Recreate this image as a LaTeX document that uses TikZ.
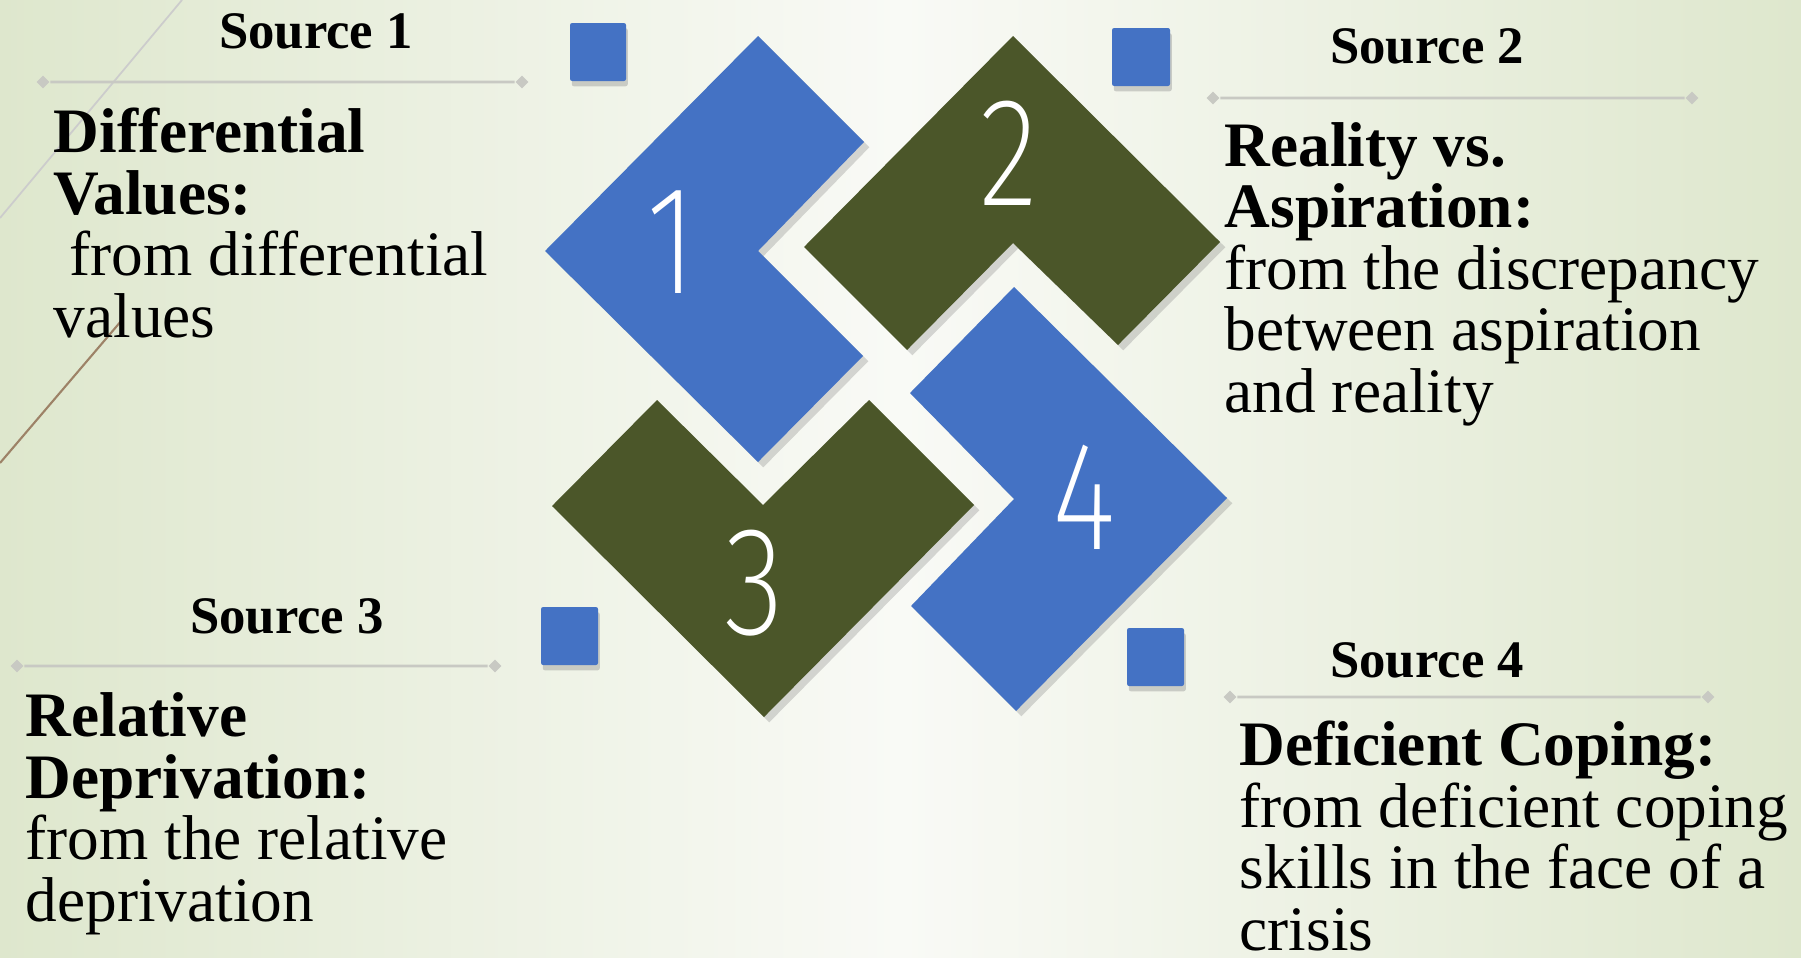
\documentclass[tikz,border=0pt]{standalone}
\usepackage{fontspec}
\setmainfont{Liberation Serif}
\newfontfamily\numfont{Fira Sans ExtraLight}
\usetikzlibrary{positioning, shadows}

\definecolor{tileblue}{RGB}{68,114,196}
\definecolor{tilegreen}{RGB}{75,86,41}
\definecolor{rulegray}{RGB}{200,201,195}
\definecolor{bgside}{RGB}{222,231,205}
\definecolor{bgmid}{RGB}{249,250,246}

\newcommand{\tilenum}[1]{\scalebox{0.8}[1]{#1}}

\tikzset{
  tile/.style={drop shadow={opacity=0.3, shadow xshift=1.5pt, shadow yshift=-1.5pt}},
  chip/.style={fill=tileblue, rounded corners=0.6pt, drop shadow={opacity=0.35, shadow xshift=0.5pt, shadow yshift=-1.5pt}},
  num/.style={text=white, font=\numfont\fontsize{44pt}{44pt}\selectfont, inner sep=0pt},
  src/.style={font=\bfseries\fontsize{15pt}{15pt}\selectfont, anchor=base, inner sep=0pt},
  body/.style={font=\fontsize{18pt}{17.45pt}\selectfont, align=left, anchor=base west, inner sep=0pt},
  tip/.style={fill=rulegray, rectangle, rotate=45, minimum size=0.09cm, inner sep=0pt},
  rule/.style={draw=rulegray, line width=0.75pt}
}

\begin{document}
\begin{tikzpicture}[x=0.01cm, y=-0.01cm]
    \useasboundingbox (0,0) rectangle (1801,957);
    \shade[left color=bgside, right color=bgside, middle color=bgmid] (0,0) rectangle (1801,957);
    \draw[black!20, line width=0.5pt] (182,0) -- (0,218);
    \draw[brown!60!black!70, line width=0.6pt] (122,320) -- (0,463);

    % tiles
    \fill[tileblue, tile] (758,36) -- (864,142) -- (758,251) -- (863,356) -- (758,462) -- (545,251) -- cycle;
    \fill[tilegreen, tile] (1013,36) -- (1220,242) -- (1118,345) -- (1013,243) -- (907,350) -- (804,247) -- cycle;
    \fill[tilegreen, tile] (552,506) -- (657,400) -- (763,505) -- (869,400) -- (974,505) -- (764,717) -- cycle;
    \fill[tileblue, tile] (1014,287) -- (1227,498) -- (1016,711) -- (911,606) -- (1014,499) -- (910,393) -- cycle;

    \node[num] (n1) at (672,242) {\tilenum{1}};
    \node[num] (n2) at (1009,153) {\tilenum{2}};
    \node[num] (n3) at (754,583) {\tilenum{3}};
    \node[num] (n4) at (1084,497) {\tilenum{4}};

    \path[chip] (570,23) rectangle (626,81);
    \path[chip] (1112,28) rectangle (1170,86);
    \path[chip] (541,607) rectangle (598,665);
    \path[chip] (1127,628) rectangle (1184,686);

    % sources
    \node[src] (s1) at (316,48) {Source 1};
    \node[src] (s2) at (1427,63) {Source 2};
    \node[src] (s3) at (287,633) {Source 3};
    \node[src] (s4) at (1427,677) {Source 4};

    \node[tip] (r1a) at (43,82) {};    \node[tip] (r1b) at (522,82) {};
    \node[tip] (r2a) at (1213,98) {};  \node[tip] (r2b) at (1692,98) {};
    \node[tip] (r3a) at (17,666) {};   \node[tip] (r3b) at (495,666) {};
    \node[tip] (r4a) at (1230,697) {}; \node[tip] (r4b) at (1708,697) {};
    \draw[rule] (r1a) -- (r1b);
    \draw[rule] (r2a) -- (r2b);
    \draw[rule] (r3a) -- (r3b);
    \draw[rule] (r4a) -- (r4b);

    % text blocks, placed by their last baseline
    \node[body] (b1) at (53,337) {\textbf{Differential}\\\textbf{Values:}\\\hspace*{0.25em}from differential\\values};
    \node[body] (b2) at (1224,412) {\textbf{Reality vs.}\\\textbf{Aspiration:}\\from the discrepancy\\between aspiration\\and reality};
    \node[body] (b3) at (25,921) {\textbf{Relative}\\\textbf{Deprivation:}\\from the relative\\deprivation};
    \node[body] (b4) at (1239,950) {\textbf{Deficient Coping:}\\from deficient coping\\skills in the face of a\\crisis};
\end{tikzpicture}
\end{document}
